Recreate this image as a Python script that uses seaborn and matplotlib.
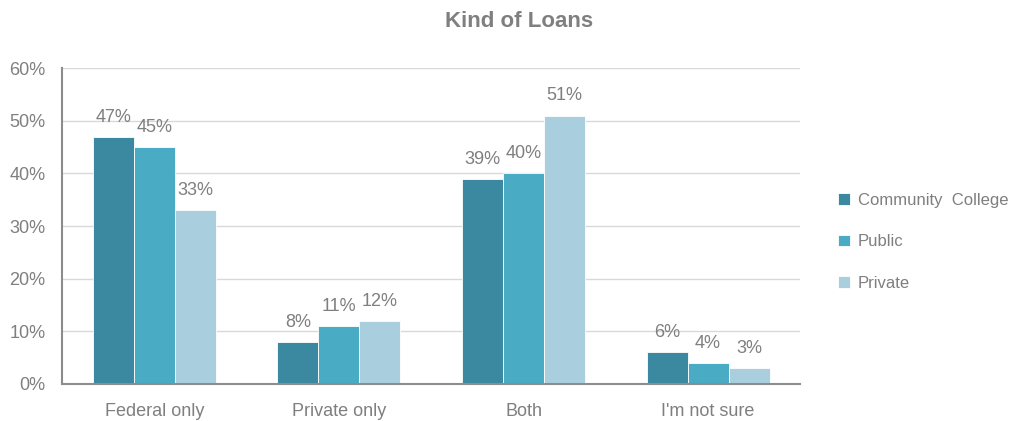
import numpy as np
import pandas as pd
import seaborn as sns
import matplotlib.pyplot as plt

categories = ['Federal only', 'Private only', 'Both', "I'm not sure"]
schools = ['Community  College', 'Public', 'Private']
community = [47, 8, 39, 6]
public = [45, 11, 40, 4]
private = [33, 12, 51, 3]

df = pd.DataFrame({
    'loan': categories * 3,
    'school': [schools[0]] * 4 + [schools[1]] * 4 + [schools[2]] * 4,
    'pct': community + public + private,
})

sns.set_theme(style='white')
plt.rcParams['font.family'] = ['Liberation Sans', 'DejaVu Sans']
grey = '#7f7f7f'
palette = ['#3a89a0', '#4aabc5', '#a9cfde']

fig = plt.figure(figsize=(10.17, 4.21), dpi=100)
ax = fig.add_axes([0.061, 0.088, 0.726, 0.75])
sns.barplot(data=df, x='loan', y='pct', hue='school', palette=palette,
            width=0.667, saturation=1, ax=ax, zorder=2, linewidth=0.6)

for c in ax.containers:
    ax.bar_label(c, labels=[f'{int(v)}%' for v in c.datavalues],
                 padding=8, fontsize=13, color=grey)

ax.set_ylim(0, 60)
ax.set_yticks(range(0, 61, 10))
ax.set_yticklabels([f'{v}%' for v in range(0, 61, 10)])
ax.yaxis.grid(True, color='#d9d9d9', linewidth=1, zorder=0)
ax.set_axisbelow(True)
ax.tick_params(axis='both', labelsize=13, colors=grey, length=0)
ax.tick_params(axis='y', pad=12)
ax.tick_params(axis='x', pad=14)
ax.set_xlabel('')
ax.set_ylabel('')
for s in ['top', 'right']:
    ax.spines[s].set_visible(False)
for s in ['left', 'bottom']:
    ax.spines[s].set_color('#8c8c8c')
    ax.spines[s].set_linewidth(1.5)

leg = ax.legend(loc='center left', bbox_to_anchor=(1.042, 0.45), frameon=False,
                fontsize=12, labelspacing=1.6, handlelength=0.7, handleheight=0.7,
                handletextpad=0.5, borderaxespad=0)
for t in leg.get_texts():
    t.set_color(grey)

fig.suptitle('Kind of Loans', x=0.51, y=0.975, fontsize=16, color=grey, fontweight='bold')
fig.savefig('out.png', dpi=100)
